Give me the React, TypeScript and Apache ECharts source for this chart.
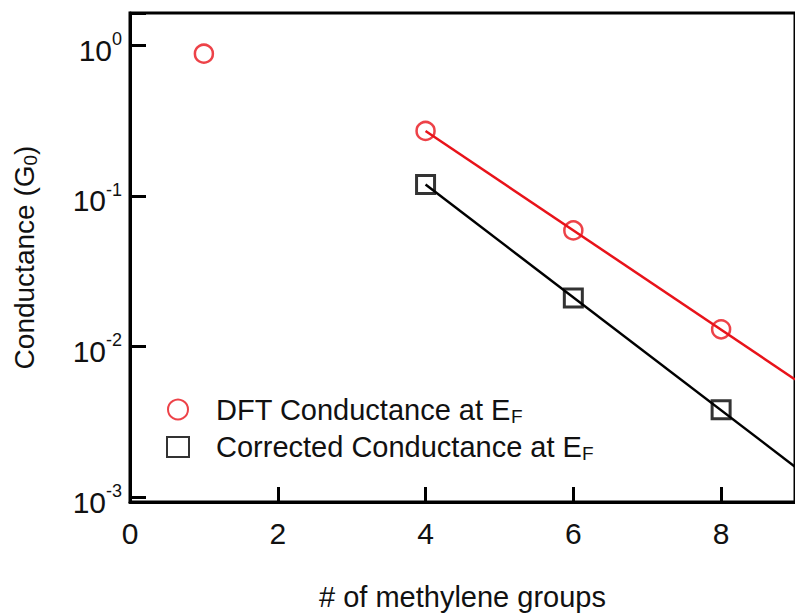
import React, { useEffect, useRef } from "react";
import * as echarts from "echarts";

const dftX = [1, 4, 6, 8];
const dftY = [0.88, 0.27, 0.059, 0.013];
const corrX = [4, 6, 8];
const corrY = [0.119, 0.021, 0.0038];
const fitX = [4, 9];
const dftFitY = [0.27, 0.00604];
const corrFitY = [0.119, 0.00159];
const xTicks = [0, 2, 4, 6, 8];

const RED = "#e8131a";
const FONT = "'Liberation Sans', Arial, sans-serif";

export default function App() {
  const ref = useRef<HTMLDivElement>(null);
  useEffect(() => {
    if (!ref.current) return;
    const chart = echarts.init(ref.current, undefined, { renderer: "svg" });
    const pair = (xs: number[], ys: number[]) => xs.map((x, i) => [x, ys[i]]);
    chart.setOption({
      animation: false,
      backgroundColor: "#fff",
      textStyle: { fontFamily: FONT },
      grid: {
        left: 130,
        top: 13,
        width: 673,
        bottom: 109,
        show: true,
        borderColor: "#000",
        borderWidth: 3,
        containLabel: false,
      },
      legend: {
        data: ["DFT", "Corrected"],
        orient: "vertical",
        left: 161,
        top: 390,
        itemWidth: 22,
        itemHeight: 20,
        itemGap: 7,
        formatter: (name: string) =>
          name === "DFT"
            ? "{a|DFT Conductance at E}{s|F}"
            : "{a|Corrected Conductance at E}{s|F}",
        textStyle: {
          color: "#111",
          fontFamily: FONT,
          padding: [0, 0, 0, 22],
          rich: {
            a: { fontSize: 29, lineHeight: 32, fontFamily: FONT, color: "#111" },
            s: { fontSize: 19, lineHeight: 19, verticalAlign: "bottom", fontFamily: FONT, color: "#111" },
          },
        },
      },
      xAxis: {
        type: "value",
        min: 0,
        max: 9,
        interval: 2,
        name: "# of methylene groups",
        nameLocation: "middle",
        nameGap: 80,
        nameTextStyle: { fontSize: 29, color: "#111", fontFamily: FONT },
        axisLine: { show: true, onZero: false, lineStyle: { color: "#000", width: 3 } },
        axisTick: { show: true, inside: true, length: 15, lineStyle: { color: "#000", width: 3 } },
        axisLabel: {
          fontSize: 30,
          color: "#111",
          margin: 16,
          fontFamily: FONT,
          showMaxLabel: false,
          formatter: (v: number) => (xTicks.includes(v) ? String(v) : ""),
        },
        splitLine: { show: false },
      },
      yAxis: {
        type: "log",
        logBase: 10,
        min: 0.000927,
        max: 1.64,
        splitNumber: 3,
        name: "{t|Conductance (G}{s|0}{t|)}",
        nameLocation: "middle",
        nameGap: 90,
        nameTextStyle: {
          color: "#111",
          fontFamily: FONT,
          rich: {
            t: { fontSize: 28, lineHeight: 32, fontFamily: FONT, color: "#111" },
            s: { fontSize: 19, lineHeight: 19, verticalAlign: "bottom", fontFamily: FONT, color: "#111" },
          },
        },
        axisLine: { show: true, lineStyle: { color: "#000", width: 3 } },
        axisTick: { show: true, inside: true, length: 16, lineStyle: { color: "#000", width: 3 } },
        axisLabel: {
          margin: 8,
          formatter: (v: number) => {
            const e = Math.log10(v);
            if (Math.abs(e - Math.round(e)) > 1e-6) return "";
            return `{b|10}{s|${Math.round(e)}}`;
          },
          rich: {
            b: { fontSize: 30, lineHeight: 30, padding: [10, 0, 0, 0], fontFamily: FONT, color: "#111" },
            s: { fontSize: 18, lineHeight: 18, verticalAlign: "top", fontFamily: FONT, color: "#111" },
          },
        },
        splitLine: { show: false },
        minorTick: { show: false },
      },
      series: [
        {
          name: "DFT fit",
          type: "line",
          data: pair(fitX, dftFitY),
          showSymbol: false,
          lineStyle: { color: RED, width: 2.5 },
          z: 2,
        },
        {
          name: "Corrected fit",
          type: "line",
          data: pair(fitX, corrFitY),
          showSymbol: false,
          lineStyle: { color: "#000", width: 2.5 },
          z: 2,
        },
        {
          name: "DFT",
          type: "scatter",
          data: pair(dftX, dftY),
          symbol: "circle",
          symbolSize: 18,
          itemStyle: { color: "rgba(255,255,255,0)", borderColor: RED, borderWidth: 2.5 },
          z: 3,
        },
        {
          name: "Corrected",
          type: "scatter",
          data: pair(corrX, corrY),
          symbol: "rect",
          symbolSize: 18,
          itemStyle: { color: "rgba(255,255,255,0)", borderColor: "#000", borderWidth: 3 },
          z: 3,
        },
      ],
    });
    return () => chart.dispose();
  }, []);
  return (
    <div
      ref={ref}
      style={{ position: "absolute", left: 0, top: 0, width: 795, height: 616, background: "#fff" }}
    />
  );
}
